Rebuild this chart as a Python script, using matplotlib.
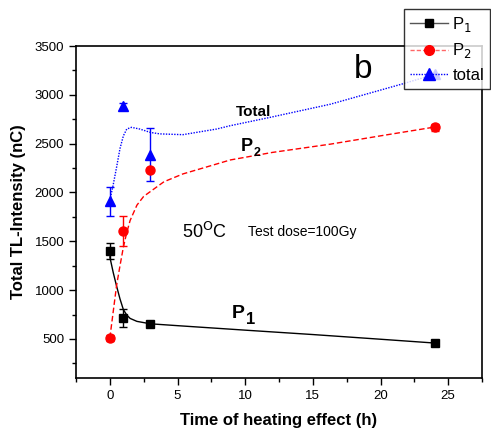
import matplotlib
matplotlib.use("Agg")
import matplotlib.pyplot as plt
from matplotlib.ticker import MultipleLocator

plt.rcParams.update({"font.family": ["Liberation Sans", "DejaVu Sans"]})

# measured points
t = [0, 1, 3, 24]
p1 = [1400, 714, 650, 456]
p1_err = [85, 93, 0, 0]
p2 = [513, 1605, 2235, 2668]
p2_err = [30, 158, 0, 35]
tot = [1908, 2888, 2388, 3210]
tot_err = [145, 30, 270, 0]

# fitted curves
p1_fit_x = [0, 0.25, 0.5, 0.75, 1.0, 1.25, 1.5, 2.0, 3.0, 5.0, 10, 15, 20, 24]
p1_fit_y = [1340, 1180, 1040, 910, 800, 745, 710, 680, 655, 636, 590, 545, 497, 458]
p2_fit_x = [0, 0.25, 0.5, 0.75, 1.0, 1.25, 1.5, 2.0, 2.5, 3.0, 4.0, 5.4, 7.9, 8.9, 12, 16.3, 20, 24]
p2_fit_y = [510, 780, 1050, 1250, 1440, 1590, 1714, 1870, 1960, 2010, 2110, 2190, 2292, 2333, 2410, 2495, 2580, 2670]
tot_fit_x = [0, 0.25, 0.5, 0.75, 1.0, 1.25, 1.6, 2.2, 3.0, 3.7, 5.4, 7.9, 8.9, 11.8, 16.3, 21.7, 24]
tot_fit_y = [1918, 2080, 2260, 2450, 2580, 2650, 2667, 2650, 2615, 2600, 2592, 2650, 2684, 2768, 2904, 3115, 3210]

fig = plt.figure(figsize=(4.91, 4.32), dpi=100)
ax = fig.add_axes([0.1548, 0.125, 0.8269, 0.7685])

ax.plot(p1_fit_x, p1_fit_y, color="black", lw=1.0, zorder=2)
ax.plot(p2_fit_x, p2_fit_y, color="red", lw=1.0, ls=(0, (4, 2)), zorder=2)
ax.plot(tot_fit_x, tot_fit_y, color="blue", lw=1.0, ls=(0, (1, 1)), zorder=2)

ax.errorbar(t, p1, yerr=p1_err, fmt="s", color="black", ms=5.5, capsize=3, elinewidth=1, zorder=3)
ax.errorbar(t, p2, yerr=p2_err, fmt="o", color="red", ms=6.5, capsize=3, elinewidth=1, zorder=3)
ax.errorbar(t, tot, yerr=tot_err, fmt="^", color="blue", ms=7.5, capsize=3, elinewidth=1, zorder=3)

# legend proxies
h1, = ax.plot([], [], color="#555555", marker="s", ms=6, lw=1, mfc="black", mec="black")
h2, = ax.plot([], [], color="#ff6666", marker="o", ms=7, lw=1, ls=(0, (3, 1.5)), mfc="red", mec="red")
h3, = ax.plot([], [], color="blue", marker="^", ms=8, lw=1, ls=(0, (1, 1)))
leg = fig.legend([h1, h2, h3], ["P$_1$", "P$_2$", "total"], loc="upper left",
                 bbox_to_anchor=(0.823, 0.979), fontsize=12, frameon=True, fancybox=False,
                 edgecolor="black", handlelength=2.3, handletextpad=0.25, borderpad=0.35,
                 labelspacing=0.45, borderaxespad=0)
leg.get_frame().set_linewidth(1.0)
leg.set_zorder(10)

ax.set_xlim(-2.5, 27.5)
ax.set_ylim(100, 3500)
ax.xaxis.set_major_locator(MultipleLocator(5))
ax.xaxis.set_minor_locator(MultipleLocator(2.5))
ax.yaxis.set_minor_locator(MultipleLocator(250))
ax.set_yticks([500, 1000, 1500, 2000, 2500, 3000, 3500])
ax.tick_params(which="both", direction="out", top=False, right=False, labelsize=9.5)
ax.tick_params(which="major", length=5, width=1)
ax.tick_params(which="minor", length=3, width=1)
for s in ax.spines.values():
    s.set_linewidth(1.2)

ax.set_xlabel("Time of heating effect (h)", fontsize=12, fontweight="bold", labelpad=8)
ax.set_ylabel("Total TL-Intensity (nC)", fontsize=12, fontweight="bold", labelpad=6)

fig.text(363 / 491, 1 - 69 / 432, "b", fontsize=24, ha="center", va="center")
ax.text(10.6, 2827, "Total", fontsize=11, fontweight="bold", ha="center", va="center")
ax.text(9.67, 2429, "P", fontsize=13, fontweight="bold", ha="left", va="baseline")
ax.text(10.6, 2370, "2", fontsize=9, fontweight="bold", ha="left", va="baseline")
ax.text(9.0, 714, "P", fontsize=14, fontweight="bold", ha="left", va="baseline")
ax.text(10.05, 650, "1", fontsize=12, fontweight="bold", ha="left", va="baseline")
ax.text(7.0, 1592, "50$^\\mathrm{O}$C", fontsize=13, ha="center", va="center")
ax.text(10.2, 1592, "Test dose=100Gy", fontsize=10, ha="left", va="center")

fig.savefig("out.png", dpi=100)
